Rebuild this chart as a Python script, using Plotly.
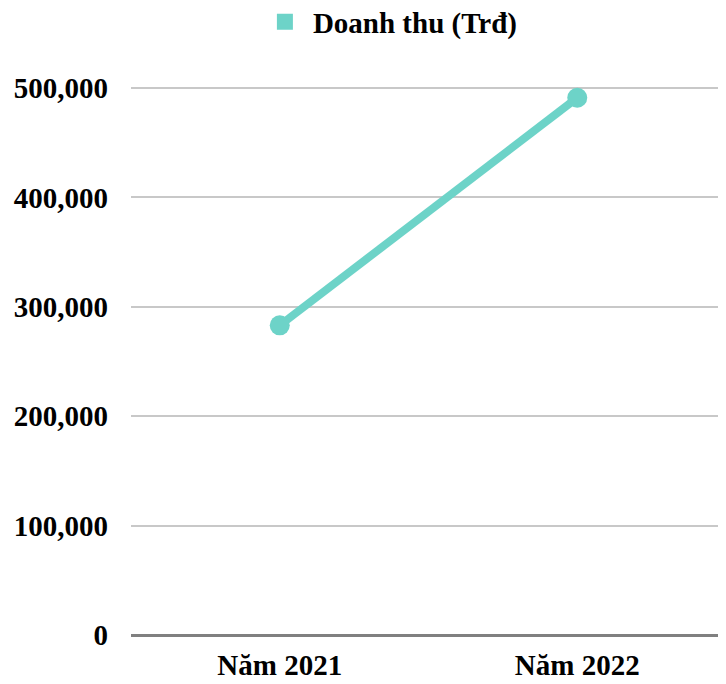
import plotly.graph_objects as go

categories = ["Năm 2021", "Năm 2022"]
revenue = [283000, 491000]
series_name = "Doanh thu (Trđ)"
tick_vals = [0, 100000, 200000, 300000, 400000, 500000]
tick_text = ["0", "100,000", "200,000", "300,000", "400,000", "500,000"]

color = "#6dd3c8"
bold = dict(family="Liberation Serif", size=29, color="#000000", weight="bold")

fig = go.Figure()
fig.add_trace(go.Scatter(
    x=categories, y=revenue, mode="lines+markers",
    line=dict(color=color, width=8),
    marker=dict(color=color, size=20),
    name=series_name, showlegend=False,
))
fig.add_trace(go.Scatter(
    x=[None], y=[None], mode="markers",
    marker=dict(color=color, size=22, symbol="square"),
    name=series_name, showlegend=True,
))

fig.update_layout(
    width=718, height=676,
    margin=dict(l=123, r=0, t=69, b=49, autoexpand=False),
    paper_bgcolor="white", plot_bgcolor="white",
    font=bold,
    legend=dict(orientation="h", x=0.2116, xanchor="left", y=1.0986, yanchor="middle",
                yref="paper", font=bold, itemwidth=46),
    xaxis=dict(range=[-0.5, 1.5], showgrid=False, showline=False, zeroline=False,
               ticks="", tickfont=bold, ticklabelstandoff=10),
    yaxis=dict(range=[0, 510000], tickvals=tick_vals, ticktext=tick_text,
               showgrid=True, gridcolor="#c8c8c8", gridwidth=2,
               zeroline=True, zerolinecolor="#808080", zerolinewidth=3,
               showline=False, ticks="", ticklabelstandoff=22,
               tickfont=bold),
)
fig.write_html("out.html")
